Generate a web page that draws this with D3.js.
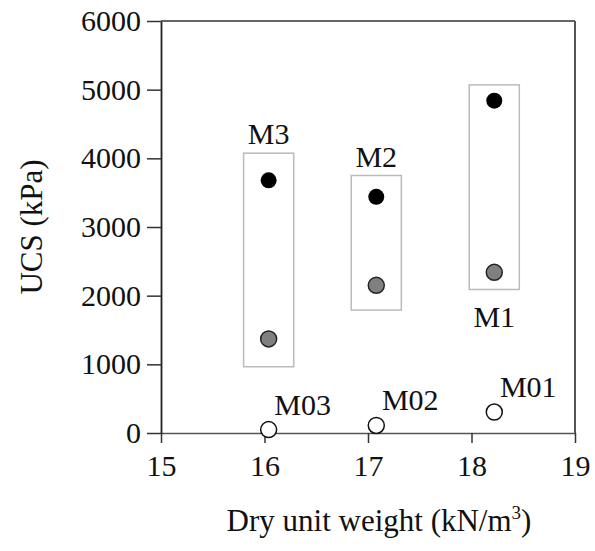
<!DOCTYPE html>
<html>
<head>
<meta charset="utf-8">
<script src="https://cdn.jsdelivr.net/npm/d3@7"></script>
<style>
  html, body { margin: 0; padding: 0; background: #fff; }
  svg text { font-family: "Liberation Serif", "Times New Roman", serif; fill: #111; }
</style>
</head>
<body>
<svg id="chart" width="595" height="551"></svg>
<script>
// Mixture groups and their dry unit weights (kN/m3)
const mixes      = ["M3", "M2", "M1"];
const dryWeight  = [16.04, 17.08, 18.22];
// UCS (kPa) of the stabilised mixes: upper (black) and lower (grey) results
const ucsHigh    = [3680, 3440, 4840];
const ucsLow     = [1370, 2150, 2340];
// Range boxes drawn around each pair
const boxLow     = [965, 1790, 2090];
const boxHigh    = [4075, 3750, 5070];
// Untreated reference mixes
const refMixes   = ["M03", "M02", "M01"];
const refUcs     = [50, 110, 305];
// Axis ticks
const xTicks = [15, 16, 17, 18, 19];
const yTicks = [0, 1000, 2000, 3000, 4000, 5000, 6000];

const svg = d3.select("#chart");
const margin = { left: 161, right: 20, top: 21, bottom: 118 };
const W = 595, H = 551;
const serif = '"Liberation Serif", "Times New Roman", serif';

const x = d3.scaleLinear().domain([15, 19]).range([margin.left, W - margin.right]);
const y = d3.scaleLinear().domain([0, 6000]).range([H - margin.bottom, margin.top]);

const boxHalf = 0.242; // half-width of range boxes in x units

// Frame (top and right edges)
svg.append("line")
  .attr("x1", x(15)).attr("x2", x(19)).attr("y1", y(6000)).attr("y2", y(6000))
  .attr("stroke", "#333").attr("stroke-width", 1.5);
svg.append("line")
  .attr("x1", x(19)).attr("x2", x(19)).attr("y1", y(6000)).attr("y2", y(0))
  .attr("stroke", "#555").attr("stroke-width", 2);

// X axis
const xAxis = svg.append("g")
  .attr("transform", `translate(0,${y(0)})`)
  .call(d3.axisBottom(x).tickValues(xTicks).tickFormat(d3.format("d"))
    .tickSize(10).tickPadding(12).tickSizeOuter(0));
xAxis.select(".domain").attr("stroke", "#555").attr("stroke-width", 1.5);
xAxis.selectAll(".tick line").attr("stroke", "#333").attr("stroke-width", 1.5);
xAxis.selectAll("text").style("font-size", "30px").style("fill", "#111")
  .style("font-family", serif);

// Y axis
const yAxis = svg.append("g")
  .attr("transform", `translate(${x(15)},0)`)
  .call(d3.axisLeft(y).tickValues(yTicks).tickFormat(d3.format("d"))
    .tickSize(14).tickPadding(6).tickSizeOuter(0));
yAxis.select(".domain").attr("stroke", "#222").attr("stroke-width", 1.8);
yAxis.selectAll(".tick line").attr("stroke", "#333").attr("stroke-width", 1.5);
yAxis.selectAll("text").style("font-size", "30px").style("fill", "#111")
  .style("font-family", serif);

// Axis titles
svg.append("text")
  .attr("x", (x(15) + x(19)) / 2 + 11).attr("y", 531)
  .attr("text-anchor", "middle").style("font-size", "31px")
  .html('Dry unit weight (kN/m<tspan dy="-12" style="font-size:19px">3</tspan><tspan dy="12">)</tspan>');
svg.append("text")
  .attr("transform", `translate(42,${(y(0) + y(6000)) / 2}) rotate(-90)`)
  .attr("text-anchor", "middle").style("font-size", "31px")
  .text("UCS (kPa)");

// Range boxes
svg.append("g").selectAll("rect").data(mixes).join("rect")
  .attr("x", (d, i) => x(dryWeight[i] - boxHalf))
  .attr("width", (d, i) => x(dryWeight[i] + boxHalf) - x(dryWeight[i] - boxHalf))
  .attr("y", (d, i) => y(boxHigh[i]))
  .attr("height", (d, i) => y(boxLow[i]) - y(boxHigh[i]))
  .attr("fill", "none").attr("stroke", "#bbb").attr("stroke-width", 1.5);

// Upper results (black)
svg.append("g").selectAll("circle").data(ucsHigh).join("circle")
  .attr("cx", (d, i) => x(dryWeight[i])).attr("cy", d => y(d))
  .attr("r", 8).attr("fill", "#000");

// Lower results (grey)
svg.append("g").selectAll("circle").data(ucsLow).join("circle")
  .attr("cx", (d, i) => x(dryWeight[i])).attr("cy", d => y(d))
  .attr("r", 8).attr("fill", "#808080").attr("stroke", "#222").attr("stroke-width", 1.5);

// Untreated mixes (open)
svg.append("g").selectAll("circle").data(refUcs).join("circle")
  .attr("cx", (d, i) => x(dryWeight[i])).attr("cy", d => y(d))
  .attr("r", 8).attr("fill", "#fff").attr("stroke", "#111").attr("stroke-width", 1.5);

// Group labels: M3/M2 above their boxes, M1 below
svg.append("g").selectAll("text").data(mixes).join("text")
  .attr("x", (d, i) => x(dryWeight[i]))
  .attr("y", (d, i) => i < 2 ? y(boxHigh[i]) - 9 : y(boxLow[i]) + 38)
  .attr("text-anchor", "middle").style("font-size", "30px")
  .text(d => d);

// Untreated labels, up and to the right of each point
svg.append("g").selectAll("text").data(refMixes).join("text")
  .attr("x", (d, i) => x(dryWeight[i]) + 34)
  .attr("y", (d, i) => y(refUcs[i]) - 15)
  .attr("text-anchor", "middle").style("font-size", "30px")
  .text(d => d);
</script>
</body>
</html>
